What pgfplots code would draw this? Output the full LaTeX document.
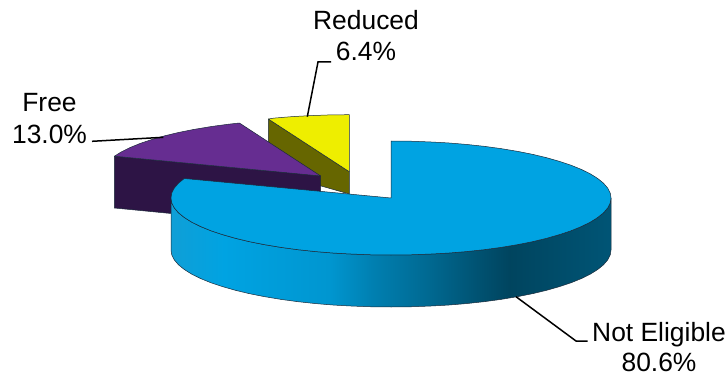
\documentclass[border=0pt]{standalone}
\usepackage{pgfplots}
\usepackage{fontspec}
\setmainfont{Liberation Sans}
\pgfplotsset{compat=1.18}
\definecolor{eligtop}{HTML}{00A3E2}
\definecolor{freetop}{HTML}{662D91}
\definecolor{freeside}{HTML}{2D1445}
\definecolor{redtop}{HTML}{EEEE00}
\definecolor{redside}{HTML}{666600}
\definecolor{edge}{HTML}{1A2A3A}
% Cylinder wall of the large slice, lit from the left
\pgfdeclarehorizontalshading{eligwall}{100bp}{
  color(0bp)=(eligtop!85!gray);
  color(25bp)=(eligtop!88!gray);
  color(31bp)=(eligtop);
  color(43bp)=(eligtop!92!black);
  color(48bp)=(eligtop!78!black);
  color(54bp)=(eligtop!65!black);
  color(60bp)=(eligtop!50!black);
  color(63.5bp)=(eligtop!42!black);
  color(75bp)=(eligtop!52!black);
  color(100bp)=(eligtop!52!black)}
\newcommand{\lab}[1]{\fontsize{26.4}{30}\selectfont #1}
\begin{document}
\begin{tikzpicture}
\begin{axis}[
  scale only axis, width=727pt, height=374pt,
  xmin=0, xmax=727, ymin=0, ymax=374, y dir=reverse,
  hide axis, clip=false,
  outline/.style={draw=edge, line width=0.5pt, line join=round},
  every node/.append style={inner sep=0pt, outer sep=0pt},
]
% Page frame
\path[use as bounding box] (axis cs:0,0) rectangle (axis cs:727,374);
% Reduced: 6.4%
\addplot[outline, fill=redside] coordinates {
  (268.3,119) (349.3,171.7) (349.3,194) (268.3,171)} -- cycle;
\addplot[outline, fill=redtop] coordinates {
  (349.3,114.7) (330.1,114.9) (311.1,115.6) (292.4,116.6) (274.1,118.1) (268.3,119)
  (349.3,171.7)} -- cycle;
% Free: 13.0%
\addplot[outline, fill=freeside] coordinates {
  (114.4,156.2) (320.7,176) (320.7,228) (114.4,208)} -- cycle;
\addplot[outline, fill=freetop] coordinates {
  (239.4,123) (227.7,124.3) (210.7,126.6) (194.5,129.3) (179.3,132.3) (165.1,135.7)
  (152.2,139.4) (140.5,143.3) (130.2,147.5) (121.3,151.9) (114.4,156.2)
  (320.7,176)} -- cycle;
% Not Eligible: 80.6%, wall then top face
\addplot[draw=edge, line width=0.5pt, shading=eligwall] coordinates {
  (611,198) (610.2,203) (607.7,207.9) (603.5,212.8) (597.7,217.5) (590.4,222.1)
  (581.5,226.5) (571.2,230.7) (559.5,234.6) (546.6,238.3) (532.4,241.7) (517.2,244.7)
  (501,247.4) (484,249.7) (466.2,251.6) (447.9,253.1) (429.2,254.1) (410.2,254.8)
  (391,255) (371.8,254.8) (352.8,254.1) (334.1,253.1) (315.8,251.6) (298,249.7)
  (281,247.4) (264.8,244.7) (249.6,241.7) (235.4,238.3) (222.5,234.6) (210.8,230.7)
  (200.5,226.5) (191.6,222.1) (184.3,217.5) (178.5,212.8) (174.3,207.9) (171.8,203)
  (171,198)
  (171,250) (171.8,255) (174.3,259.9) (178.5,264.8) (184.3,269.5) (191.6,274.1)
  (200.5,278.5) (210.8,282.7) (222.5,286.6) (235.4,290.3) (249.6,293.7) (264.8,296.7)
  (281,299.4) (298,301.7) (315.8,303.6) (334.1,305.1) (352.8,306.1) (371.8,306.8)
  (391,307) (410.2,306.8) (429.2,306.1) (447.9,305.1) (466.2,303.6) (484,301.7)
  (501,299.4) (517.2,296.7) (532.4,293.7) (546.6,290.3) (559.5,286.6) (571.2,282.7)
  (581.5,278.5) (590.4,274.1) (597.7,269.5) (603.5,264.8) (607.7,259.9) (610.2,255)
  (611,250)} -- cycle;
\addplot[outline, fill=eligtop] coordinates {
  (391,141) (410.2,141.2) (429.2,141.9) (447.9,142.9) (466.2,144.4) (484,146.3)
  (501,148.6) (517.2,151.3) (532.4,154.3) (546.6,157.7) (559.5,161.4) (571.2,165.3)
  (581.5,169.5) (590.4,173.9) (597.7,178.5) (603.5,183.2) (607.7,188.1) (610.2,193)
  (611,198)
  (610.2,203) (607.7,207.9) (603.5,212.8) (597.7,217.5) (590.4,222.1)
  (581.5,226.5) (571.2,230.7) (559.5,234.6) (546.6,238.3) (532.4,241.7) (517.2,244.7)
  (501,247.4) (484,249.7) (466.2,251.6) (447.9,253.1) (429.2,254.1) (410.2,254.8)
  (391,255) (371.8,254.8) (352.8,254.1) (334.1,253.1) (315.8,251.6) (298,249.7)
  (281,247.4) (264.8,244.7) (249.6,241.7) (235.4,238.3) (222.5,234.6) (210.8,230.7)
  (200.5,226.5) (191.6,222.1) (184.3,217.5) (178.5,212.8) (174.3,207.9) (171.8,203)
  (171,198) (171.8,193) (174.3,188.1) (178.5,183.2) (184.3,178.5)
  (391,198)} -- cycle;
% Leader lines
\addplot[black, line width=1.5pt] coordinates {(307.3,116.7) (318,62) (331,62)};
\addplot[black, line width=1.5pt] coordinates {(92,141.3) (163.3,137.3)};
\addplot[black, line width=1.5pt] coordinates {(516,296.7) (576,341) (587.5,341)};
% Slice labels
\node[anchor=base] at (axis cs:366,30) {\lab{Reduced}};
\node[anchor=base] at (axis cs:366,61) {\lab{6.4\%}};
\node[anchor=base] at (axis cs:49.5,112) {\lab{Free}};
\node[anchor=base] at (axis cs:49.5,143) {\lab{13.0\%}};
\node[anchor=base] at (axis cs:659,341) {\lab{Not Eligible}};
\node[anchor=base] at (axis cs:659,371.5) {\lab{80.6\%}};
\end{axis}
\end{tikzpicture}
\end{document}
